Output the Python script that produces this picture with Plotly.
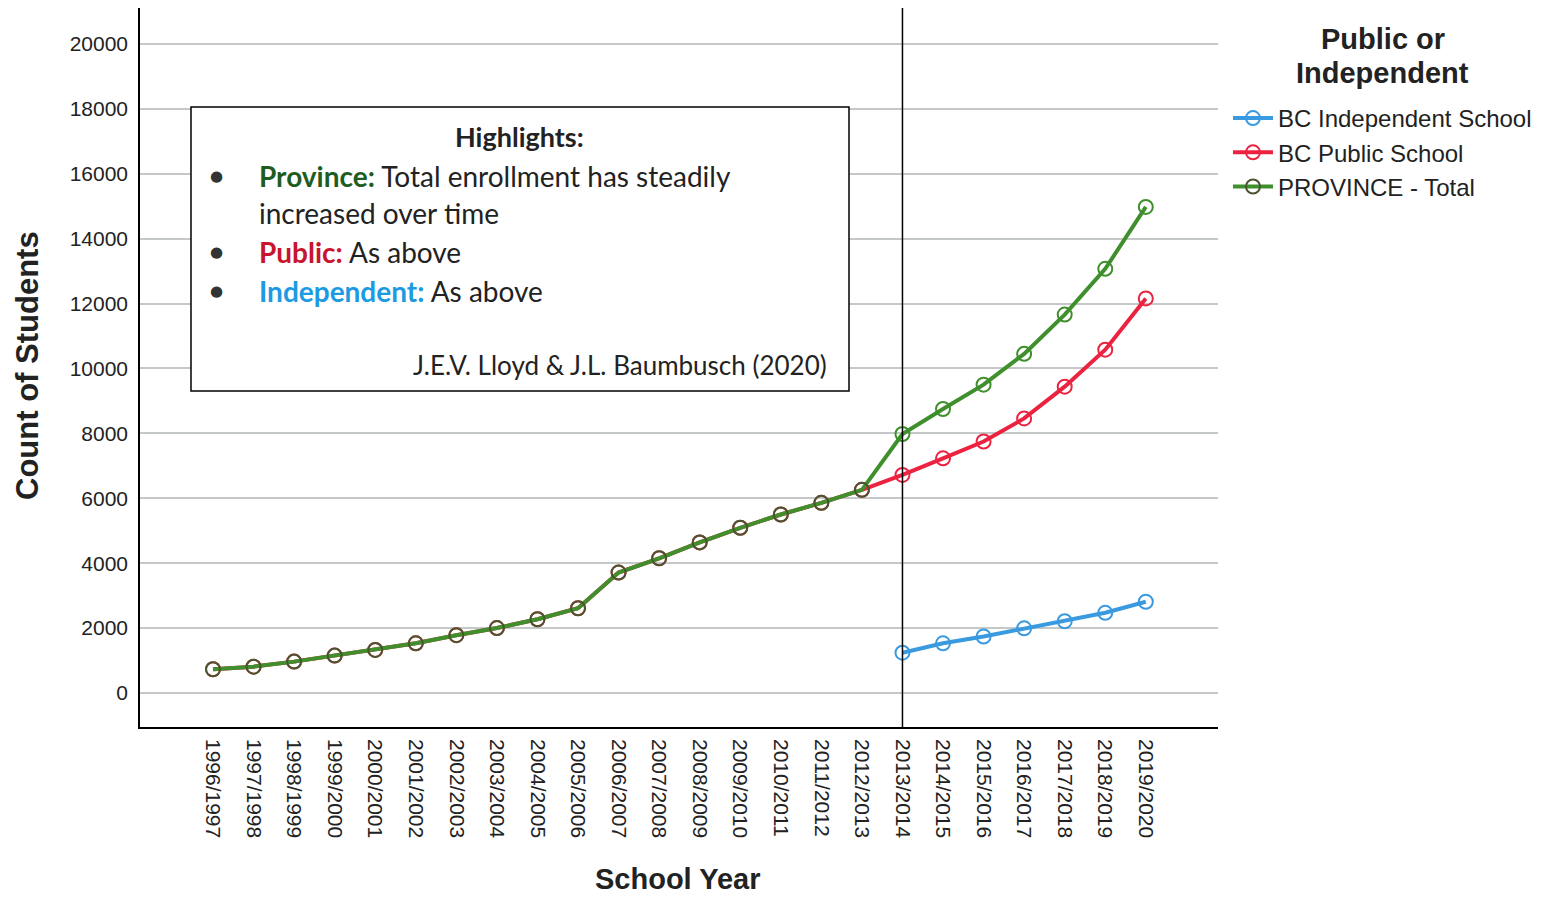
import plotly.graph_objects as go

# School years on the category axis
years = [
    "1996/1997", "1997/1998", "1998/1999", "1999/2000", "2000/2001", "2001/2002",
    "2002/2003", "2003/2004", "2004/2005", "2005/2006", "2006/2007", "2007/2008",
    "2008/2009", "2009/2010", "2010/2011", "2011/2012", "2012/2013", "2013/2014",
    "2014/2015", "2015/2016", "2016/2017", "2017/2018", "2018/2019", "2019/2020",
]

# Count of students per school year
province_total = [
    730, 810, 965, 1150, 1325, 1530, 1780, 2000, 2270, 2610, 3710, 4150,
    4640, 5090, 5500, 5860, 6260, 7980, 8750, 9500, 10450, 11660, 13070, 14980,
]
public_school = [
    730, 810, 965, 1150, 1325, 1530, 1780, 2000, 2270, 2610, 3710, 4150,
    4640, 5090, 5500, 5860, 6260, 6720, 7230, 7750, 8460, 9440, 10580, 12160,
]
independent_school = [
    None, None, None, None, None, None, None, None, None, None, None, None,
    None, None, None, None, None, 1240, 1530, 1740, 1990, 2210, 2470, 2810,
]

y_ticks = [0, 2000, 4000, 6000, 8000, 10000, 12000, 14000, 16000, 18000, 20000]

BLUE = "#3a9ae0"
RED = "#ec2340"
GREEN = "#3f8f2c"
OVERLAP = "#4a5530"   # where public and total markers coincide

fig = go.Figure()

series = [
    ("BC Independent School", independent_school, BLUE),
    ("BC Public School", public_school, RED),
    ("PROVINCE - Total", province_total, GREEN),
]
for name, vals, col in series:
    if name == "PROVINCE - Total":
        mcol = [OVERLAP if p == q else col for p, q in zip(province_total, public_school)]
    else:
        mcol = col
    fig.add_trace(go.Scatter(
        x=years, y=vals, name=name, mode="lines+markers",
        line=dict(color=col, width=4),
        marker=dict(symbol="circle-open", size=14, color=mcol, line=dict(width=2, color=mcol)),
        connectgaps=False,
    ))

# Reference line at the start of the 2013/2014 school year
fig.add_shape(type="line", xref="x", yref="paper", x0="2013/2014", x1="2013/2014",
              y0=0, y1=1, line=dict(color="black", width=1.5))

# Highlights box
fig.add_shape(type="rect", xref="paper", yref="paper",
              x0=0.0473, x1=0.6577, y0=0.4673, y1=0.8623,
              line=dict(color="black", width=1.5), fillcolor="white", layer="above")

box_font = "Lato, 'Open Sans', sans-serif"
TX = 0.1085
ann = [
    dict(x=0.3525, y=0.8206, xanchor="center", text="<b>Highlights:</b>",
         font=dict(size=27, color="#222222", family=box_font)),
    dict(x=TX, y=0.7663, xanchor="left",
         text="<b><span style='color:#1f5c1f'>Province:</span></b> Total enrollment has steadily",
         font=dict(size=28, color="#222222", family=box_font)),
    dict(x=TX, y=0.7149, xanchor="left", text="increased over time",
         font=dict(size=28, color="#222222", family=box_font)),
    dict(x=TX, y=0.6606, xanchor="left",
         text="<b><span style='color:#c8142c'>Public:</span></b> As above",
         font=dict(size=28, color="#222222", family=box_font)),
    dict(x=TX, y=0.6064, xanchor="left",
         text="<b><span style='color:#1d9be2'>Independent:</span></b> As above",
         font=dict(size=28, color="#222222", family=box_font)),
    dict(x=0.6391, y=0.5035, xanchor="right", text="J.E.V. Lloyd &amp; J.L. Baumbusch (2020)",
         font=dict(size=26, color="#222222", family=box_font)),
]
for yb in (0.7663, 0.6606, 0.6064):
    ann.append(dict(x=0.0714, y=yb, xanchor="center", text="●",
                    font=dict(size=15, color="#333333", family="DejaVu Sans")))

# Axis titles and legend heading
ann += [
    dict(x=-0.1039, y=0.5035, xanchor="center", yanchor="middle", textangle=-90,
         text="<b>Count of Students</b>",
         font=dict(size=31, color="#222222", family="Liberation Sans, Arial")),
    dict(x=0.499, y=(727 - 879) / 719, xanchor="center", yanchor="middle",
         text="<b>School Year</b>",
         font=dict(size=29, color="#222222", family="Liberation Sans, Arial")),
    dict(x=1.153, y=(727 - 39) / 719, xanchor="center", yanchor="middle",
         text="<b>Public or</b>",
         font=dict(size=29, color="#222222", family="Liberation Sans, Arial")),
    dict(x=1.153, y=(727 - 73) / 719, xanchor="center", yanchor="middle",
         text="<b>Independent</b>",
         font=dict(size=29, color="#222222", family="Liberation Sans, Arial")),
]
for a in ann:
    a.setdefault("yanchor", "middle")
    a.update(xref="paper", yref="paper", showarrow=False)
    fig.add_annotation(**a)

fig.update_layout(
    width=1549, height=898,
    margin=dict(l=140, r=331, t=8, b=171),
    paper_bgcolor="white", plot_bgcolor="white",
    font=dict(family="Liberation Sans, Arial", color="#222222"),
    showlegend=True,
    legend=dict(x=(1228 - 140) / 1078, y=(727 - 96) / 719, xanchor="left", yanchor="top",
                font=dict(size=24, color="#222222"),
                tracegroupgap=0, itemwidth=40, bgcolor="rgba(0,0,0,0)"),
    xaxis=dict(
        type="category", categoryorder="array", categoryarray=years,
        range=[-1.8, 24.78], tickangle=90, tickfont=dict(size=21, color="#222222"),
        showgrid=False, showline=True, linecolor="black", linewidth=1.5,
        ticks="", zeroline=False, fixedrange=True, ticklabelstandoff=6,
    ),
    yaxis=dict(
        range=[-1050, 21110], tickvals=y_ticks, tickformat="d",
        tickfont=dict(size=21, color="#222222"),
        showgrid=True, gridcolor="#c4c8c8", gridwidth=1.5,
        showline=True, linecolor="black", linewidth=1.5,
        ticks="", zeroline=False, ticklabelstandoff=6,
    ),
)

fig.write_html("out.html")
